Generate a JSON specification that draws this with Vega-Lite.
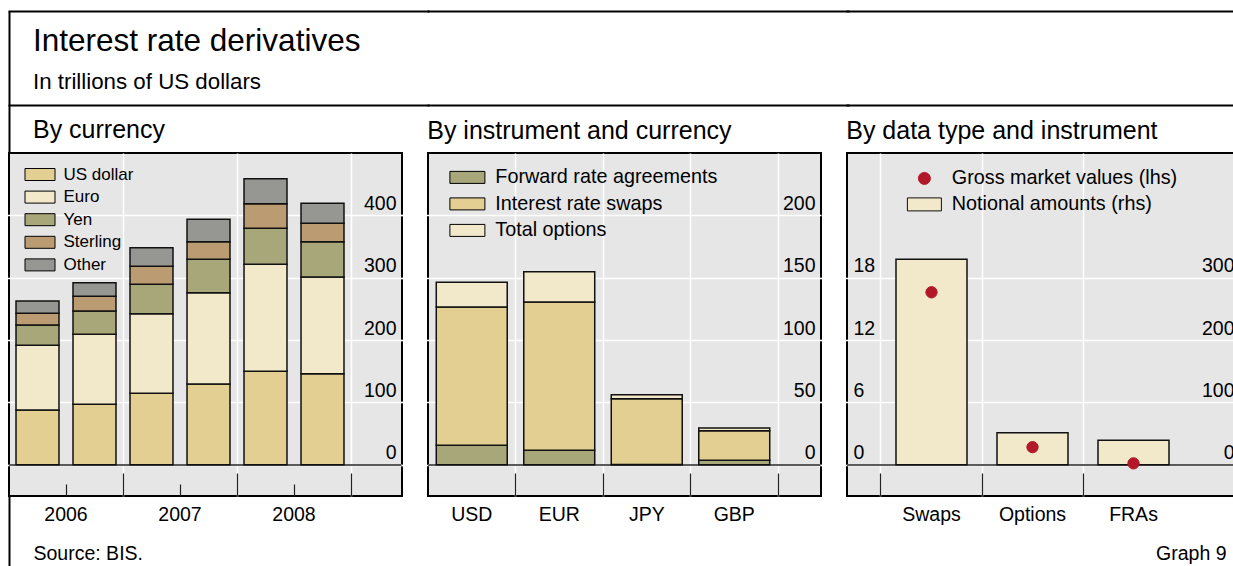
{
  "$schema": "https://vega.github.io/schema/vega-lite/v6.json",
  "background": "white",
  "padding": {"left": 7, "top": 9, "right": 0, "bottom": 0},
  "title": {"text": "Interest rate derivatives", "subtitle": "In trillions of US dollars", "anchor": "start", "frame": "bounds", "dx": 26, "offset": -109.5, "fontSize": 31.5, "subtitleFontSize": 22.3, "subtitlePadding": 7, "baseline": "alphabetic"},
  "config": {
    "font": "Liberation Sans",
    "view": {"stroke": "black", "strokeWidth": 2, "fill": "#E6E6E6"},
    "axis": {"labelColor": "black", "labelFont": "Liberation Sans", "labelFontSize": 19.5, "titleColor": "black", "titleFontWeight": "normal", "domain": false},
    "legend": {"labelColor": "black", "labelFont": "Liberation Sans", "padding": 0, "labelLimit": 400},
    "title": {"color": "black", "fontWeight": "normal", "font": "Liberation Sans", "subtitleColor": "black", "subtitleFont": "Liberation Sans"}
  },
  "bounds": "flush",
  "spacing": 26,
  "resolve": {
    "scale": {"color": "independent", "stroke": "independent", "shape": "independent"},
    "legend": {"color": "independent", "stroke": "independent", "shape": "independent"}
  },
  "hconcat": [
    {
      "width": 393,
      "height": 343,
      "title": {"text": "By currency", "anchor": "start", "dx": 25, "offset": -153, "fontSize": 25, "baseline": "alphabetic"},
      "data": {"values": [
        {"period": "2006 H1", "currency": "US dollar", "k": 1, "value": 87.9},
        {"period": "2006 H1", "currency": "Euro", "k": 2, "value": 103.7},
        {"period": "2006 H1", "currency": "Yen", "k": 3, "value": 32.6},
        {"period": "2006 H1", "currency": "Sterling", "k": 4, "value": 18.7},
        {"period": "2006 H1", "currency": "Other", "k": 5, "value": 19.8},
        {"period": "2006 H2", "currency": "US dollar", "k": 1, "value": 97.0},
        {"period": "2006 H2", "currency": "Euro", "k": 2, "value": 112.3},
        {"period": "2006 H2", "currency": "Yen", "k": 3, "value": 37.3},
        {"period": "2006 H2", "currency": "Sterling", "k": 4, "value": 23.6},
        {"period": "2006 H2", "currency": "Other", "k": 5, "value": 21.8},
        {"period": "2007 H1", "currency": "US dollar", "k": 1, "value": 114.6},
        {"period": "2007 H1", "currency": "Euro", "k": 2, "value": 127.7},
        {"period": "2007 H1", "currency": "Yen", "k": 3, "value": 47.1},
        {"period": "2007 H1", "currency": "Sterling", "k": 4, "value": 28.9},
        {"period": "2007 H1", "currency": "Other", "k": 5, "value": 29.9},
        {"period": "2007 H2", "currency": "US dollar", "k": 1, "value": 129.6},
        {"period": "2007 H2", "currency": "Euro", "k": 2, "value": 146.4},
        {"period": "2007 H2", "currency": "Yen", "k": 3, "value": 53.5},
        {"period": "2007 H2", "currency": "Sterling", "k": 4, "value": 28.3},
        {"period": "2007 H2", "currency": "Other", "k": 5, "value": 35.8},
        {"period": "2008 H1", "currency": "US dollar", "k": 1, "value": 149.9},
        {"period": "2008 H1", "currency": "Euro", "k": 2, "value": 171.6},
        {"period": "2008 H1", "currency": "Yen", "k": 3, "value": 57.7},
        {"period": "2008 H1", "currency": "Sterling", "k": 4, "value": 39.5},
        {"period": "2008 H1", "currency": "Other", "k": 5, "value": 40.1},
        {"period": "2008 H2", "currency": "US dollar", "k": 1, "value": 146.1},
        {"period": "2008 H2", "currency": "Euro", "k": 2, "value": 155.0},
        {"period": "2008 H2", "currency": "Yen", "k": 3, "value": 56.7},
        {"period": "2008 H2", "currency": "Sterling", "k": 4, "value": 29.4},
        {"period": "2008 H2", "currency": "Other", "k": 5, "value": 32.1}
      ]},
      "resolve": {"axis": {"x": "independent", "y": "independent"}},
      "layer": [
        {
          "mark": {"type": "rule", "color": "#5a5a5a", "strokeWidth": 1.5},
          "encoding": {"y": {"datum": 0, "type": "quantitative", "scale": {"domain": [-50, 500], "nice": false}, "axis": null}}
        },
        {
          "mark": {"type": "bar", "stroke": "#111", "strokeWidth": 1.5, "width": {"band": 0.754}},
          "encoding": {
            "x": {"field": "period", "type": "nominal",
              "scale": {"type": "band", "domain": ["2006 H1", "2006 H2", "2007 H1", "2007 H2", "2008 H1", "2008 H2"], "range": [0, 419], "paddingInner": 0, "paddingOuter": 0.6754, "align": 0},
              "axis": {"orient": "bottom", "values": ["2006 H1", "2007 H1", "2008 H1"], "labelOffset": 28.5, "labelExpr": "substring(datum.label, 0, 4)", "ticks": false, "grid": false, "labelAngle": 0, "labelPadding": 24, "labelBaseline": "alphabetic", "title": null}},
            "y": {"field": "value", "type": "quantitative", "stack": "zero", "scale": {"domain": [-50, 500], "nice": false},
              "axis": {"orient": "right", "values": [0, 100, 200, 300, 400], "grid": true, "gridColor": "white", "gridWidth": 1.5, "ticks": false, "labelAlign": "right", "labelPadding": -6, "labelBaseline": "alphabetic", "labelOffset": -6, "title": null}},
            "color": {"field": "currency", "type": "nominal",
              "scale": {"domain": ["US dollar", "Euro", "Yen", "Sterling", "Other"], "range": ["#E3CF92", "#F2E9CA", "#A7A77A", "#BB9C72", "#969692"]},
              "legend": {"orient": "none", "legendX": 22.5, "legendY": 13, "title": null, "symbolType": "M-1.875,-0.75H1.875V0.75H-1.875Z", "symbolSize": 256, "symbolStrokeColor": "black", "symbolStrokeWidth": 1, "labelFontSize": 17, "labelOffset": 15, "rowPadding": 4.6}},
            "order": {"field": "k", "type": "quantitative"}
          }
        },
        {
          "mark": "text",
          "encoding": {
            "x": {"field": "period", "type": "nominal", "scale": {"type": "band"},
              "axis": {"orient": "bottom", "values": ["2006 H1", "2007 H1", "2008 H1"], "bandPosition": 1, "labels": false, "ticks": true, "tickSize": -12, "tickColor": "#222", "tickWidth": 1.2, "grid": false, "title": null}},
            "text": {"value": ""}
          }
        },
        {
          "mark": "text",
          "encoding": {
            "x": {"field": "period", "type": "nominal", "scale": {"type": "band"},
              "axis": {"orient": "bottom", "values": ["2006 H2", "2007 H2", "2008 H2"], "bandPosition": 1, "labels": false, "ticks": true, "tickSize": -23, "tickColor": "#222", "tickWidth": 1.2, "grid": true, "gridColor": "white", "gridWidth": 1.5, "title": null}},
            "text": {"value": ""}
          }
        },
        {
          "mark": "text",
          "encoding": {
            "x": {"field": "period", "type": "nominal", "scale": {"type": "band"},
              "axis": {"orient": "top", "offset": 142, "domain": true, "domainColor": "black", "domainWidth": 2, "domainCap": "square", "values": ["2006 H1"], "bandPosition": 0, "labels": false, "ticks": true, "tickSize": -142, "tickColor": "black", "tickWidth": 2, "grid": false, "title": null}},
            "text": {"value": ""}
          }
        },
        {
          "mark": "text",
          "encoding": {
            "x": {"field": "period", "type": "nominal", "scale": {"type": "band"},
              "axis": {"orient": "top", "offset": 48, "domain": true, "domainColor": "black", "domainWidth": 2, "domainCap": "square", "labels": false, "ticks": false, "grid": false, "title": null}},
            "text": {"value": ""}
          }
        },
        {
          "mark": "text",
          "encoding": {
            "x": {"field": "period", "type": "nominal", "scale": {"type": "band"},
              "axis": {"orient": "bottom", "values": ["2006 H1"], "bandPosition": 0, "labels": false, "ticks": true, "tickSize": 71, "tickColor": "black", "tickWidth": 2, "grid": false,
                "title": "Source: BIS.", "titleX": 24, "titleY": 63, "titleAlign": "left", "titleAnchor": "start", "titleBaseline": "alphabetic", "titleFontSize": 19.5, "titleFontWeight": "normal"}},
            "text": {"value": ""}
          }
        }
      ]
    },
    {
      "width": 393,
      "height": 343,
      "title": {"text": "By instrument and currency", "anchor": "start", "offset": -153, "fontSize": 25, "baseline": "alphabetic"},
      "data": {"values": [
        {"currency": "USD", "instrument": "Forward rate agreements", "k": 1, "value": 15.6},
        {"currency": "USD", "instrument": "Interest rate swaps", "k": 2, "value": 110.9},
        {"currency": "USD", "instrument": "Total options", "k": 3, "value": 19.8},
        {"currency": "EUR", "instrument": "Forward rate agreements", "k": 1, "value": 11.6},
        {"currency": "EUR", "instrument": "Interest rate swaps", "k": 2, "value": 118.9},
        {"currency": "EUR", "instrument": "Total options", "k": 3, "value": 24.3},
        {"currency": "JPY", "instrument": "Forward rate agreements", "k": 1, "value": 0.3},
        {"currency": "JPY", "instrument": "Interest rate swaps", "k": 2, "value": 52.7},
        {"currency": "JPY", "instrument": "Total options", "k": 3, "value": 3.2},
        {"currency": "GBP", "instrument": "Forward rate agreements", "k": 1, "value": 3.6},
        {"currency": "GBP", "instrument": "Interest rate swaps", "k": 2, "value": 23.7},
        {"currency": "GBP", "instrument": "Total options", "k": 3, "value": 2.2}
      ]},
      "resolve": {"axis": {"x": "independent", "y": "independent"}},
      "layer": [
        {
          "mark": {"type": "rule", "color": "#5a5a5a", "strokeWidth": 1.5},
          "encoding": {"y": {"datum": 0, "type": "quantitative", "scale": {"domain": [-25, 250], "nice": false}, "axis": null}}
        },
        {
          "mark": {"type": "bar", "stroke": "#111", "strokeWidth": 1.5, "width": {"band": 0.811}},
          "encoding": {
            "x": {"field": "currency", "type": "nominal",
              "scale": {"type": "band", "domain": ["USD", "EUR", "JPY", "GBP"], "range": [0, 420], "paddingInner": 0, "paddingOuter": 0.4, "align": 0},
              "axis": {"orient": "bottom", "ticks": false, "grid": false, "labelAngle": 0, "labelPadding": 24, "labelBaseline": "alphabetic", "title": null}},
            "y": {"field": "value", "type": "quantitative", "stack": "zero", "scale": {"domain": [-25, 250], "nice": false},
              "axis": {"orient": "right", "values": [0, 50, 100, 150, 200], "grid": true, "gridColor": "white", "gridWidth": 1.5, "ticks": false, "labelAlign": "right", "labelPadding": -6, "labelBaseline": "alphabetic", "labelOffset": -6, "title": null}},
            "color": {"field": "instrument", "type": "nominal",
              "scale": {"domain": ["Forward rate agreements", "Interest rate swaps", "Total options"], "range": ["#A7A77A", "#E3CF92", "#F2E9CA"]},
              "legend": {"orient": "none", "legendX": 29.5, "legendY": 14.5, "title": null, "symbolType": "M-1.944,-0.667H1.944V0.667H-1.944Z", "symbolSize": 324, "symbolStrokeColor": "black", "symbolStrokeWidth": 1, "labelFontSize": 19.8, "labelOffset": 18, "rowPadding": 5.5}},
            "order": {"field": "k", "type": "quantitative"}
          }
        },
        {
          "mark": "text",
          "encoding": {
            "x": {"field": "currency", "type": "nominal", "scale": {"type": "band"},
              "axis": {"orient": "bottom", "values": ["USD", "EUR", "JPY", "GBP"], "bandPosition": 1, "labels": false, "ticks": true, "tickSize": -23, "tickColor": "#222", "tickWidth": 1.2, "grid": true, "gridColor": "white", "gridWidth": 1.5, "title": null}},
            "text": {"value": ""}
          }
        },
        {
          "mark": "text",
          "encoding": {
            "x": {"field": "currency", "type": "nominal", "scale": {"type": "band"},
              "axis": {"orient": "top", "offset": 142, "domain": true, "domainColor": "black", "domainWidth": 2, "domainCap": "square", "labels": false, "ticks": false, "grid": false, "title": null}},
            "text": {"value": ""}
          }
        },
        {
          "mark": "text",
          "encoding": {
            "x": {"field": "currency", "type": "nominal", "scale": {"type": "band"},
              "axis": {"orient": "top", "offset": 48, "domain": true, "domainColor": "black", "domainWidth": 2, "domainCap": "square", "labels": false, "ticks": false, "grid": false, "title": null}},
            "text": {"value": ""}
          }
        }
      ]
    },
    {
      "width": 393,
      "height": 343,
      "title": {"text": "By data type and instrument", "anchor": "start", "offset": -153, "fontSize": 25, "baseline": "alphabetic"},
      "data": {"values": [
        {"instrument": "Swaps", "series": "Notional amounts (rhs)", "value": 329.5},
        {"instrument": "Options", "series": "Notional amounts (rhs)", "value": 51.5},
        {"instrument": "FRAs", "series": "Notional amounts (rhs)", "value": 39.3},
        {"instrument": "Swaps", "series": "Gross market values (lhs)", "value": 16.6},
        {"instrument": "Options", "series": "Gross market values (lhs)", "value": 1.7},
        {"instrument": "FRAs", "series": "Gross market values (lhs)", "value": 0.14}
      ]},
      "resolve": {"scale": {"y": "independent"}, "axis": {"x": "independent", "y": "independent"}},
      "layer": [
        {
          "mark": {"type": "rule", "color": "#5a5a5a", "strokeWidth": 1.5},
          "encoding": {"y": {"datum": 0, "type": "quantitative", "scale": {"domain": [-50, 500], "nice": false}, "axis": null}}
        },
        {
          "transform": [{"filter": "datum.series === 'Notional amounts (rhs)'"}],
          "mark": {"type": "bar", "strokeWidth": 1.5, "width": {"band": 0.703}},
          "encoding": {
            "x": {"field": "instrument", "type": "nominal",
              "scale": {"type": "band", "domain": ["Swaps", "Options", "FRAs"], "range": [0, 420], "paddingInner": 0, "paddingOuter": 0.5792, "align": 0.2906},
              "axis": {"orient": "bottom", "ticks": false, "grid": false, "labelAngle": 0, "labelPadding": 24, "labelBaseline": "alphabetic", "title": null}},
            "y": {"field": "value", "type": "quantitative", "scale": {"domain": [-50, 500], "nice": false},
              "axis": {"orient": "right", "values": [0, 100, 200, 300], "grid": true, "gridColor": "white", "gridWidth": 1.5, "ticks": false, "labelAlign": "right", "labelPadding": -6, "labelBaseline": "alphabetic", "labelOffset": -6, "title": null}},
            "color": {"field": "series", "type": "nominal",
              "scale": {"domain": ["Gross market values (lhs)", "Notional amounts (rhs)"], "range": ["#B21828", "#F2E9CA"]},
              "legend": {"orient": "none", "legendX": 67.5, "legendY": 15.5, "title": null, "symbolSize": 144, "symbolStrokeWidth": 1, "labelFontSize": 19.8, "labelOffset": 17.5, "rowPadding": 5}},
            "stroke": {"field": "series", "type": "nominal",
              "scale": {"domain": ["Gross market values (lhs)", "Notional amounts (rhs)"], "range": ["#B21828", "#111111"]},
              "legend": {"orient": "none", "legendX": 67.5, "legendY": 15.5, "title": null, "symbolSize": 144, "symbolStrokeWidth": 1, "labelFontSize": 19.8, "labelOffset": 17.5, "rowPadding": 5}}
          }
        },
        {
          "transform": [{"filter": "datum.series === 'Gross market values (lhs)'"}],
          "mark": {"type": "point", "filled": true, "size": 128, "opacity": 1, "strokeWidth": 1},
          "encoding": {
            "x": {"field": "instrument", "type": "nominal", "scale": {"type": "band"}, "axis": null},
            "y": {"field": "value", "type": "quantitative", "scale": {"domain": [-3, 30], "nice": false},
              "axis": {"orient": "left", "values": [0, 6, 12, 18], "grid": false, "ticks": false, "labelAlign": "left", "labelPadding": -6, "labelBaseline": "alphabetic", "labelOffset": -6, "title": null}},
            "color": {"field": "series", "type": "nominal",
              "scale": {"domain": ["Gross market values (lhs)", "Notional amounts (rhs)"], "range": ["#B21828", "#F2E9CA"]},
              "legend": {"orient": "none", "legendX": 67.5, "legendY": 15.5, "title": null, "symbolSize": 144, "symbolStrokeWidth": 1, "labelFontSize": 19.8, "labelOffset": 17.5, "rowPadding": 5}},
            "stroke": {"field": "series", "type": "nominal",
              "scale": {"domain": ["Gross market values (lhs)", "Notional amounts (rhs)"], "range": ["#B21828", "#111111"]},
              "legend": {"orient": "none", "legendX": 67.5, "legendY": 15.5, "title": null, "symbolSize": 144, "symbolStrokeWidth": 1, "labelFontSize": 19.8, "labelOffset": 17.5, "rowPadding": 5}},
            "shape": {"field": "series", "type": "nominal",
              "scale": {"domain": ["Gross market values (lhs)", "Notional amounts (rhs)"], "range": ["circle", "M-2.833,-1.083H2.833V1.083H-2.833Z"]},
              "legend": {"orient": "none", "legendX": 67.5, "legendY": 15.5, "title": null, "symbolSize": 144, "symbolStrokeWidth": 1, "labelFontSize": 19.8, "labelOffset": 17.5, "rowPadding": 5}}
          }
        },
        {
          "mark": "text",
          "encoding": {
            "x": {"field": "instrument", "type": "nominal", "scale": {"type": "band"},
              "axis": {"orient": "bottom", "values": ["Swaps", "Options", "FRAs"], "bandPosition": 0, "labels": false, "ticks": true, "tickSize": -23, "tickColor": "#222", "tickWidth": 1.2, "grid": true, "gridColor": "white", "gridWidth": 1.5,
                "title": "Graph 9", "titleX": 379, "titleY": 63, "titleAlign": "right", "titleAnchor": "end", "titleBaseline": "alphabetic", "titleFontSize": 19.5, "titleFontWeight": "normal"}},
            "text": {"value": ""}
          }
        },
        {
          "mark": "text",
          "encoding": {
            "x": {"field": "instrument", "type": "nominal", "scale": {"type": "band"},
              "axis": {"orient": "top", "offset": 142, "domain": true, "domainColor": "black", "domainWidth": 2, "domainCap": "square", "labels": false, "ticks": false, "grid": false, "title": null}},
            "text": {"value": ""}
          }
        },
        {
          "mark": "text",
          "encoding": {
            "x": {"field": "instrument", "type": "nominal", "scale": {"type": "band"},
              "axis": {"orient": "top", "offset": 48, "domain": true, "domainColor": "black", "domainWidth": 2, "domainCap": "square", "labels": false, "ticks": false, "grid": false, "title": null}},
            "text": {"value": ""}
          }
        }
      ]
    }
  ]
}
